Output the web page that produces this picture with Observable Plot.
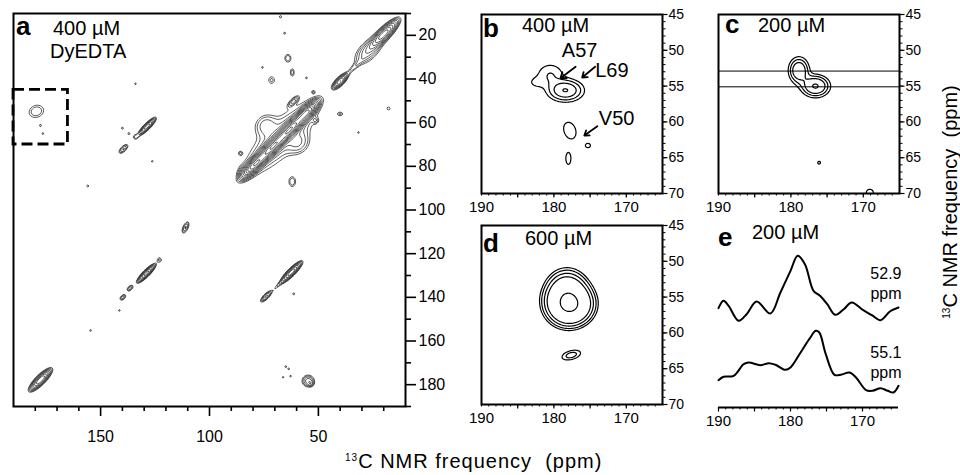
<!DOCTYPE html>
<html><head><meta charset="utf-8">
<script src="https://cdn.jsdelivr.net/npm/d3@7"></script>
<script src="https://cdn.jsdelivr.net/npm/@observablehq/plot@0.6"></script>
<style>
body{margin:0;background:#fff;}
#wrap{position:relative;width:960px;height:475px;overflow:hidden;background:#fff;}
.panel{position:absolute;}
#over{position:absolute;left:0;top:0;pointer-events:none;}
</style></head><body><div id="wrap"></div>
<script>
// ---------- data (ppm) ----------
// Panel a: 2D 13C-13C spectrum, peaks as [x ppm], [y ppm], amplitude, sigma along, sigma across, angle (deg)
const aPeakX   = [79, 71, 63, 55.5, 67, 74.5, 59, 84, 20, 27, 40, 33.5, 61.5, 62, 64, 62, 71.5, 55.5, 65.5, 40, 17.8, 85.8, 52.3, 51.4, 31.6, 75.7, 67.4, 128.7, 134, 139.5, 140, 137, 134, 126.3, 155.9, 111, 179.5, 177.6, 176.5, 129, 123, 136.5, 139.8, 141.4, 154.6, 62.4, 74, 68, 61.3, 177.6, 54.7, 53.5, 65, 63.6, 66.2, 62.8];
const aPeakY   = [79, 71, 63, 55.5, 67, 61, 69.5, 82, 19.5, 27, 41, 34.5, 50.3, 87, 30.5, 37, 40.5, 39.5, 19, 56, 53.5, 74, 46, 59, 64.5, 34.7, 11.5, 61.8, 66.5, 72, 62.5, 65, 42.2, 77.7, 89, 108, 54.8, 61.3, 65, 129, 122.8, 135.8, 140, 146, 155.2, 128.5, 139.6, 134, 138.4, 177.8, 178.3, 179.5, 171.7, 172.8, 176.6, 176.1];
const aPeakAmp = [3.4, 4.2, 4.2, 2.8, 0.3, 0.22, 0.22, 0.2, 1.8, 0.35, 1.1, 0.14, 0.3, 0.2, 0.2, 0.18, 0.16, 0.13, 0.13, 0.16, 0.15, 0.14, 0.13, 0.15, 0.13, 0.13, 0.14, 1.0, 0.15, 0.3, 0.13, 0.13, 0.13, 0.13, 0.13, 0.3, 0.2, 0.13, 0.13, 1.3, 0.15, 0.25, 0.25, 0.13, 0.13, 1.4, 0.45, 0.14, 0.13, 1.5, 0.35, 0.2, 0.13, 0.13, 0.13, 0.13];
const aPeakSa  = [4, 4.5, 4.5, 3.5, 15, 3.5, 3.5, 2, 4.5, 5, 2.3, 4, 2, 1.3, 1.2, 0.8, 1.35, 0.6, 0.7, 1.2, 0.8, 0.8, 0.6, 0.9, 0.6, 0.6, 0.7, 2.8, 1, 1.8, 0.7, 0.7, 0.6, 0.6, 0.7, 1.9, 2.9, 0.6, 0.6, 2.8, 1, 1.2, 1.2, 0.6, 0.6, 3.2, 2, 3, 0.7, 3.3, 1.8, 0.8, 0.6, 0.6, 0.6, 0.6];
const aPeakSc  = [1.3, 1.4, 1.4, 1.3, 5, 3, 3, 1.5, 1.3, 2.5, 0.9, 0.8, 0.8, 1.9, 1.5, 1.6, 1.55, 0.6, 0.7, 0.8, 0.8, 0.8, 0.6, 0.9, 0.6, 0.6, 0.7, 0.7, 1, 0.8, 0.7, 0.7, 0.6, 0.6, 0.7, 0.8, 2.3, 0.8, 0.7, 0.7, 1, 0.7, 0.7, 0.6, 0.6, 0.8, 0.7, 0.5, 0.7, 1.0, 1.7, 0.8, 0.6, 0.6, 0.6, 0.6];
const aPeakAng = [45, 45, 45, 45, 45, 45, 45, 45, 45, 45, 45, 45, 45, 0, 0, 0, 0, 0, 0, 0, 0, 0, 0, 0, 0, 0, 0, 45, 0, 45, 0, 0, 0, 0, 0, 65, 20, 0, 0, 45, 0, 45, 45, 0, 0, 45, 45, 45, 0, 45, 0, 0, 0, 0, 0, 0];
const aLevels  = [0.1, 0.14, 0.2, 0.28, 0.4, 0.56, 0.8, 1.1, 1.5, 2.0, 2.7, 3.5, 4.4];
const aTicksX = [150, 100, 50];
const aTicksY = [20, 40, 60, 80, 100, 120, 140, 160, 180];

// zoomed carbonyl/C-alpha region (dashed box in a)
const zoomX = [190, 165];
const zoomY = [45, 70];
const zoomTicksX = [190, 180, 170];
const zoomTicksY = [45, 50, 55, 60, 65, 70];

// Panel b: 400 uM
const bPeakX = [178.4, 180.5, 182.5, 177.8, 175.3, 178.0];
const bPeakY = [55.6, 53.4, 54.5, 61.2, 63.3, 65.1];
const bPeakAmp = [1.0, 0.3, 0.15, 0.3, 0.18, 0.2];
const bPeakSx = [1.35, 1.3, 0.9, 0.68, 0.58, 0.46];
const bPeakSy = [0.85, 1.1, 0.6, 1.0, 0.5, 1.1];
const bPeakAng = [0, 0, 0, 20, 0, 0];
const bLevels = [0.15, 0.3, 0.55, 0.98];

// Panel c: 200 uM
const cPeakX = [178.9, 176.6, 176.1, 169.1];
const cPeakY = [52.8, 55.0, 65.7, 69.9];
const cPeakAmp = [0.9, 1.05, 0.25, 0.28];
const cPeakSx = [0.85, 1.15, 0.3, 0.6];
const cPeakSy = [1.1, 0.9, 0.3, 0.6];
const cPeakAng = [0, 0, 0, 0];
const cLevels = [0.2, 0.35, 0.55, 1.0];
const sliceLevels = [52.9, 55.1];

// Panel d: 600 uM
const dPeakX = [177.6, 178.2, 179.6, 177.6];
const dPeakY = [56.3, 53.8, 55.5, 63.1];
const dPeakAmp = [1.0, 0.5, 0.2, 0.2];
const dPeakSx = [1.8, 1.7, 1.5, 1.3];
const dPeakSy = [1.6, 1.7, 1.5, 0.6];
const dPeakAng = [20, 0, 0, 15];
const dLevels = [0.12, 0.17, 0.25, 0.36, 1.05];

// Panel e: 1D slices of c at 52.9 and 55.1 ppm (relative intensity)
const e529ppm = [190.0, 189.3, 188.6, 187.2, 186.1, 184.7, 182.8, 181.4, 180.0, 179.0, 178.0, 176.8, 175.9, 174.9, 173.8, 172.6, 171.5, 169.9, 168.7, 167.5, 166.2, 165.0];
const e529int = [4.3, 11.7, 6.7, -8.3, -1.7, 11, -1, 20, 41.7, 56.7, 48.3, 21.7, 16.7, 8.3, -2.3, 3.3, 10, 2.3, -2.7, -7.7, 1, 5];
const e551ppm = [190.0, 189.3, 187.9, 186.5, 185.8, 184.2, 183.0, 182.1, 180.7, 180.0, 178.6, 177.4, 176.5, 176.0, 175.1, 173.9, 173.0, 171.8, 170.9, 169.5, 168.6, 167.5, 166.5, 165.7, 165.0];
const e551int = [-0.7, 2.7, 3.7, 15.3, 17, 14.3, 16.3, 14.7, 9.7, 12, 27, 40.3, 48.7, 47, 25.3, 4.7, 4.7, 7, 2, -10.7, -11.3, -8.7, -11.3, -13, -6.3];

// ---------- helpers ----------
const FONT = '"Liberation Sans", Arial, Helvetica, sans-serif';
function field(X, Y, A, S1, S2, ANG) {
  const c = ANG.map(a => Math.cos(a * Math.PI / 180)), s = ANG.map(a => Math.sin(a * Math.PI / 180));
  return (x, y) => {
    let v = 0;
    for (let i = 0; i < X.length; i++) {
      const dx = x - X[i], dy = y - Y[i];
      const lim = 5 * Math.max(S1[i], S2[i]);
      if (dx > lim || dx < -lim || dy > lim || dy < -lim) continue;
      const u = dx * c[i] + dy * s[i], w = -dx * s[i] + dy * c[i];
      v += A[i] * Math.exp(-0.5 * (u * u / (S1[i] * S1[i]) + w * w / (S2[i] * S2[i])));
    }
    return v;
  };
}
const styleBase = {fontFamily: FONT, background: "transparent", color: "#000", overflow: "visible"};
const wrap = document.getElementById("wrap");
function place(el, left, top) {
  const d = document.createElement("div");
  d.className = "panel"; d.style.left = left + "px"; d.style.top = top + "px";
  d.appendChild(el); wrap.appendChild(d);
}
const none = () => "";
const rng = (a, b, step) => d3.range(a, b + 1e-9, step);

// ---------- panel a ----------
const minorA = rng(20, 180, 10).filter(v => !aTicksX.includes(v));
const minorAY = rng(10, 190, 10).filter(v => !aTicksY.includes(v));
place(Plot.plot({
  width: 460, height: 460, marginLeft: 13, marginTop: 13, marginRight: 55, marginBottom: 54,
  x: {domain: [190, 10]}, y: {domain: [10, 190], reverse: true},
  style: {...styleBase, fontSize: "16px"},
  marks: [
    Plot.contour({value: field(aPeakX, aPeakY, aPeakAmp, aPeakSa, aPeakSc, aPeakAng),
      x1: 190, x2: 10, y1: 10, y2: 190, pixelSize: 1,
      thresholds: aLevels, stroke: "#2a2a2a", strokeWidth: 0.75, fill: "none"}),
    Plot.rect([{x1: zoomX[0], x2: zoomX[1], y1: zoomY[0], y2: zoomY[1]}],
      {x1: "x1", x2: "x2", y1: "y1", y2: "y2", fill: "none", stroke: "#000", strokeWidth: 2.8, strokeDasharray: "11,5"}),
    Plot.frame({stroke: "#000", strokeWidth: 2}),
    Plot.axisX({ticks: aTicksX, tickSize: 10, tickPadding: 14, strokeWidth: 1.6, fontSize: 16, label: null}),
    Plot.axisX({ticks: minorA, tickSize: 5, strokeWidth: 1.6, tickFormat: none, label: null}),
    Plot.axisY({anchor: "right", ticks: aTicksY, tickSize: 10, tickPadding: 3, strokeWidth: 1.6, fontSize: 16, label: null}),
    Plot.axisY({anchor: "right", ticks: minorAY, tickSize: 5, strokeWidth: 1.6, tickFormat: none, label: null})
  ]
}), 0, 0);

// ---------- small 2D panels ----------
function zoomPanel(f, levels, extra, dims) {
  return Plot.plot({
    width: 240, height: dims.h, marginLeft: dims.ml, marginRight: 240 - dims.ml - 181, marginTop: 14, marginBottom: dims.h - 14 - 179,
    x: {domain: zoomX}, y: {domain: zoomY, reverse: true},
    style: {...styleBase, fontSize: "14px"},
    marks: [
      Plot.contour({value: f, x1: zoomX[0], x2: zoomX[1], y1: zoomY[0], y2: zoomY[1], pixelSize: 1,
        thresholds: levels, stroke: "#000", strokeWidth: 1.2, fill: "none"}),
      ...extra,
      Plot.frame({stroke: "#000", strokeWidth: 2}),
      Plot.axisX({ticks: zoomTicksX, tickSize: 0, tickPadding: 8, fontSize: 15, label: null}),
      Plot.axisX({ticks: rng(166, 190, 1), tickSize: 2.5, strokeWidth: 1, tickFormat: none, label: null}),
      Plot.axisX({ticks: rng(170, 185, 5), tickSize: 4.5, strokeWidth: 1.2, tickFormat: none, label: null}),
      Plot.axisY({anchor: "right", ticks: zoomTicksY, tickSize: 4.5, tickPadding: 1.5, strokeWidth: 1.2, fontSize: 14, label: null}),
      Plot.axisY({anchor: "right", ticks: rng(46, 69, 1), tickSize: 2.5, strokeWidth: 1, tickFormat: none, label: null})
    ]
  });
}
const bLabels = ["A57", "L69", "V50"];
place(zoomPanel(field(bPeakX, bPeakY, bPeakAmp, bPeakSx, bPeakSy, bPeakAng), bLevels, [
  Plot.arrow([{x1: 177.0, y1: 52.3, x2: 179.1, y2: 53.9}, {x1: 174.3, y1: 52.3, x2: 176.1, y2: 53.8}, {x1: 174.0, y1: 60.6, x2: 175.8, y2: 61.9}],
    {x1: "x1", y1: "y1", x2: "x2", y2: "y2", stroke: "#000", strokeWidth: 1.8, headLength: 8, headAngle: 70}),
  Plot.text(bLabels, {x: [178.9, 174.3, 173.8], y: [50.1, 52.8, 59.5], text: d => d, textAnchor: "start", lineAnchor: "middle", fontSize: 20})
], {h: 220, ml: 21}), 460, 0);

place(zoomPanel(field(cPeakX, cPeakY, cPeakAmp, cPeakSx, cPeakSy, cPeakAng), cLevels, [
  Plot.ruleY(sliceLevels, {stroke: "#000", strokeWidth: 1})
], {h: 220, ml: 28}), 690, 0);

place(zoomPanel(field(dPeakX, dPeakY, dPeakAmp, dPeakSx, dPeakSy, dPeakAng), dLevels, [], {h: 220, ml: 21}), 460, 211);

// ---------- panel e ----------
const e529 = e529ppm.map((p, i) => ({ppm: p, v: e529int[i]}));
const e551 = e551ppm.map((p, i) => ({ppm: p, v: e551int[i]}));
const eOffset = [95, 28];
place(Plot.plot({
  width: 240, height: 222, marginLeft: 28, marginRight: 32, marginTop: 14, marginBottom: 26,
  x: {domain: zoomX}, y: {domain: [0, 182], axis: null},
  style: {...styleBase, fontSize: "14px"},
  marks: [
    Plot.line(e529, {x: "ppm", y: d => d.v + eOffset[0], curve: "catmull-rom", stroke: "#000", strokeWidth: 2}),
    Plot.line(e551, {x: "ppm", y: d => d.v + eOffset[1], curve: "catmull-rom", stroke: "#000", strokeWidth: 2}),
    Plot.text(sliceLevels, {x: zoomX[1], y: (d, i) => eOffset[i] + [30, 18][i], text: d => d.toFixed(1) + "\nppm",
      textAnchor: "end", lineAnchor: "middle", lineHeight: 1.25, dx: 3, fontSize: 16}),
    Plot.ruleY([0], {stroke: "#000", strokeWidth: 2}),
    Plot.axisX({ticks: zoomTicksX, tickSize: 0, tickPadding: 8, fontSize: 15, label: null}),
    Plot.axisX({ticks: rng(166, 190, 1), tickSize: 2.5, strokeWidth: 1, tickFormat: none, label: null}),
    Plot.axisX({ticks: rng(170, 190, 5), tickSize: 4.5, strokeWidth: 1.2, tickFormat: none, label: null})
  ]
}), 690, 211);

// ---------- overlay text ----------
const ns = "http://www.w3.org/2000/svg";
const over = document.createElementNS(ns, "svg");
over.setAttribute("id", "over"); over.setAttribute("width", 960); over.setAttribute("height", 475);
over.setAttribute("font-family", FONT);
over.innerHTML = `
  <g font-weight="bold" font-size="26">
    <text x="16" y="35">a</text><text x="483" y="37">b</text>
    <text x="725" y="33">c</text><text x="483" y="252">d</text><text x="718" y="246">e</text>
  </g>
  <g font-size="20">
    <text x="53" y="35">400 µM</text><text x="50" y="58">DyEDTA</text>
    <text x="522" y="32">400 µM</text><text x="758" y="32">200 µM</text>
    <text x="525" y="245">600 µM</text><text x="752" y="239">200 µM</text>
    <text x="345" y="468" style="white-space:pre;letter-spacing:1px"><tspan font-size="10" dy="-7">13</tspan><tspan dy="7">C NMR frequency  (ppm)</tspan></text>
    <text transform="translate(957,202) rotate(-90)" text-anchor="middle" style="white-space:pre"><tspan font-size="10" dy="-7">13</tspan><tspan dy="7">C NMR frequency  (ppm)</tspan></text>
  </g>`;
wrap.appendChild(over);
</script></body></html>
